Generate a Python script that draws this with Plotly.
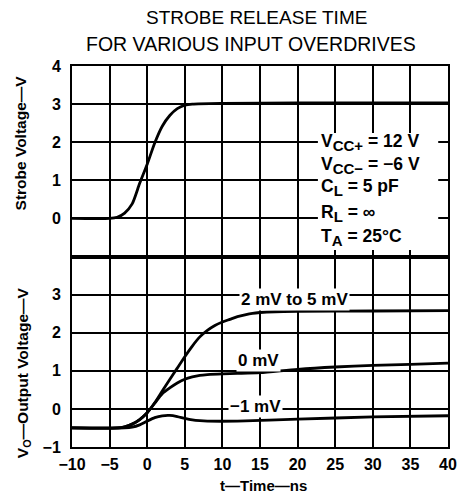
import plotly.graph_objects as go

# ---------------- data ----------------
strobe_t = [-10, -5, -4, -3, -2, -1, 0, 1, 2, 3, 4, 5, 6, 10, 20, 30, 40]
strobe_v = [0, 0, 0.03, 0.14, 0.38, 0.92, 1.42, 1.98, 2.42, 2.7, 2.88, 2.97, 3.0, 3.02, 3.03, 3.03, 3.03]

hi_t = [-10, -4, -3, -2, -1, 0, 1, 2, 3, 4, 5, 6, 7, 8, 9, 10, 11, 12, 13, 14, 15, 17, 20, 30, 40]
hi_v = [-0.5, -0.5, -0.47, -0.4, -0.28, -0.1, 0.16, 0.47, 0.77, 1.07, 1.37, 1.65, 1.89, 2.06, 2.19,
        2.28, 2.35, 2.42, 2.47, 2.51, 2.53, 2.55, 2.56, 2.57, 2.58]

zero_t = [-10, -4, -3, -2, -1, 0, 1, 2, 3, 4, 5, 6, 7, 8, 10, 12, 15, 20, 25, 30, 35, 40]
zero_v = [-0.5, -0.5, -0.47, -0.4, -0.28, -0.1, 0.15, 0.4, 0.55, 0.68, 0.78, 0.84, 0.88, 0.9,
          0.92, 0.93, 0.95, 1.04, 1.1, 1.14, 1.17, 1.2]

neg_t = [-10, -3, -2, -1, 0, 1, 2, 3, 4, 5, 6, 7, 8, 12, 20, 30, 40]
neg_v = [-0.5, -0.5, -0.48, -0.42, -0.32, -0.23, -0.18, -0.17, -0.2, -0.25, -0.29, -0.31,
         -0.32, -0.32, -0.27, -0.21, -0.18]

x_ticks = [-10, -5, 0, 5, 10, 15, 20, 25, 30, 35, 40]
x_ticktext = ["\u221210", "\u22125", "0", "5", "10", "15", "20", "25", "30", "35", "40"]
top_ticks = [0, 1, 2, 3, 4]
bot_ticks = [-1, 0, 1, 2, 3]
bot_ticktext = ["\u22121", "0", "1", "2", "3"]

SUB = "<sub><span style='font-size:15px'>%s</span></sub>"
conditions = ["V" + SUB % "CC+" + " = 12 V", "V" + SUB % "CC\u2212" + " = \u22126 V",
              "C" + SUB % "L" + " = 5 pF", "R" + SUB % "L" + " = \u221e",
              "T" + SUB % "A" + " = 25\u00b0C"]
cond_y = [1.98, 1.40, 0.80, 0.14, -0.49]

curve_labels = ["2 mV to 5 mV", "0 mV", "\u22121 mV"]
label_x = [12.2, 11.8, 10.8]
label_y = [2.88, 1.27, 0.06]

# ---------------- figure ----------------
FONT = "Liberation Sans, Arial, Helvetica, sans-serif"
fig = go.Figure()
line = dict(color="black", width=2.8, shape="spline", smoothing=0.7)
fig.add_trace(go.Scatter(x=strobe_t, y=strobe_v, mode="lines", line=line, xaxis="x2", yaxis="y2"))
fig.add_trace(go.Scatter(x=hi_t, y=hi_v, mode="lines", line=line, xaxis="x", yaxis="y"))
fig.add_trace(go.Scatter(x=zero_t, y=zero_v, mode="lines", line=line, xaxis="x", yaxis="y"))
fig.add_trace(go.Scatter(x=neg_t, y=neg_v, mode="lines", line=line, xaxis="x", yaxis="y"))

ax_common = dict(showline=True, mirror=True, linecolor="black", linewidth=2,
                 showgrid=True, gridcolor="black", gridwidth=1.8,
                 zeroline=False, ticks="outside", ticklen=6, tickcolor="rgba(0,0,0,0)",
                 tickfont=dict(family=FONT, size=16, color="black", weight="bold"))

# page body has an 8px margin: figure is shifted by 8px right/down
fig.update_layout(
    width=463, height=485,
    margin=dict(l=64, r=23, t=58, b=46),
    paper_bgcolor="white", plot_bgcolor="white",
    showlegend=False,
    font=dict(family=FONT, color="black"),
    xaxis=dict(ax_common, domain=[0, 1], anchor="y", range=[-10, 40], ticklen=2,
               tickvals=x_ticks, ticktext=x_ticktext),
    xaxis2=dict(ax_common, domain=[0, 1], anchor="y2", range=[-10, 40], matches="x",
                tickvals=x_ticks, showticklabels=False),
    yaxis=dict(ax_common, domain=[0, 0.5], anchor="x", range=[-1, 4],
               tickvals=bot_ticks, ticktext=bot_ticktext),
    yaxis2=dict(ax_common, domain=[0.5, 1], anchor="x2", range=[-1, 4],
                tickvals=top_ticks),
)

# white box behind the test-condition text
fig.add_shape(type="rect", xref="x2", yref="y2", x0=22.7, x1=38.7, y0=-0.83, y1=2.24,
              fillcolor="white", line=dict(width=0), layer="above")

for txt, yy in zip(conditions, cond_y):
    fig.add_annotation(x=22.9, y=yy, xref="x2", yref="y2", text=txt, showarrow=False,
                       xanchor="left", yanchor="middle",
                       font=dict(family=FONT, size=17.5, color="black", weight="bold"))

for txt, xx, yy in zip(curve_labels, label_x, label_y):
    fig.add_annotation(x=xx, y=yy, xref="x", yref="y", text=txt, showarrow=False,
                       xanchor="left", yanchor="middle", bgcolor="white", borderpad=1,
                       font=dict(family=FONT, size=17, color="black", weight="bold"))

# title (two lines)
fig.add_annotation(x=0.49, y=1.128, xref="paper", yref="paper", text="STROBE RELEASE TIME",
                   showarrow=False, xanchor="center", yanchor="middle",
                   font=dict(family=FONT, size=19, color="black"))
fig.add_annotation(x=0.475, y=1.059, xref="paper", yref="paper", text="FOR VARIOUS INPUT OVERDRIVES",
                   showarrow=False, xanchor="center", yanchor="middle",
                   font=dict(family=FONT, size=19.5, color="black"))

# axis titles
fig.add_annotation(x=-0.138, y=0.797, xref="paper", yref="paper", text="Strobe Voltage\u2014V",
                   textangle=-90, showarrow=False, xanchor="center", yanchor="middle",
                   font=dict(family=FONT, size=15.5, color="black", weight="bold"))
fig.add_annotation(x=-0.13, y=0.194, xref="paper", yref="paper",
                   text="V<sub>O</sub>\u2014Output Voltage\u2014V",
                   textangle=-90, showarrow=False, xanchor="center", yanchor="middle",
                   font=dict(family=FONT, size=15.5, color="black", weight="bold"))
fig.add_annotation(x=0.51, y=-0.1, xref="paper", yref="paper", text="t\u2014Time\u2014ns",
                   showarrow=False, xanchor="center", yanchor="middle",
                   font=dict(family=FONT, size=15, color="black", weight="bold"))

fig.write_html("out.html")
